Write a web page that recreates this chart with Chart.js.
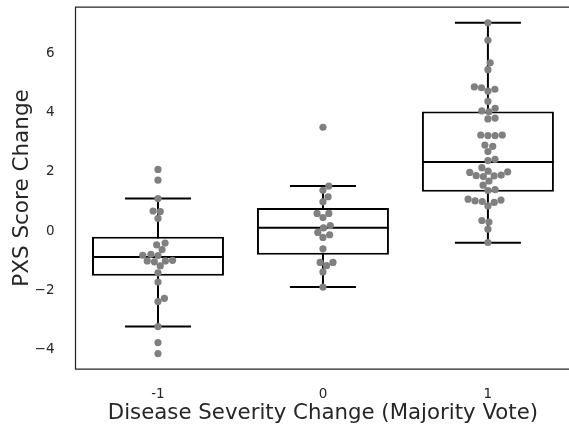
<!DOCTYPE html>
<html>
<head>
<meta charset="utf-8">
<script src="https://cdn.jsdelivr.net/npm/chart.js@4"></script>
<style>
  html, body { margin: 0; padding: 0; background: #fff; overflow: hidden; }
  canvas { display: block; }
</style>
</head>
<body>
<canvas id="chart" width="574" height="434"></canvas>
<script>
// categories on the x axis
const categories = ['-1', '0', '1'];

// PXS score change per group
const scoresNeg = [2.08, 1.72, 1.10, 0.68, 0.66, 0.43, -0.40, -0.46, -0.62, -0.78, -0.81, -0.82,
  -0.98, -1.00, -1.00, -1.03, -1.17, -1.40, -1.71, -2.26, -2.37, -3.21, -3.75, -4.12];
const scoresZero = [3.50, 1.52, 1.38, 1.16, 0.99, 0.60, 0.60, 0.46, 0.19, 0.11, -0.04, -0.12,
  -0.21, -0.59, -1.05, -1.05, -1.16, -1.37, -1.88];
const scoresPos = [7.02, 6.43, 5.67, 5.44, 4.86, 4.83, 4.78, 4.72, 4.37, 4.14, 4.05, 4.02, 3.81,
  3.78, 3.24, 3.24, 3.22, 3.22, 2.90, 2.86, 2.68, 2.42, 2.38, 2.14, 2.02, 2.00, 1.98, 1.89, 1.87,
  1.86, 1.84, 1.69, 1.55, 1.40, 1.37, 1.08, 1.05, 1.02, 1.00, 0.97, 0.85, 0.36, 0.31, 0.07, -0.38];

// box plot statistics per group
const whiskerLow = [-3.21, -1.88, -0.39];
const quartile1 = [-1.50, -0.79, 1.33];
const medians = [-0.87, 0.12, 2.33];
const quartile3 = [-0.19, 0.78, 4.03];
const whiskerHigh = [1.10, 1.52, 7.02];

const yTicks = [-4, -2, 0, 2, 4, 6];

const groups = [scoresNeg, scoresZero, scoresPos];
const boxHalf = 0.4;
const capHalf = 0.2;

Chart.defaults.font.family = "'DejaVu Sans', sans-serif";
Chart.defaults.color = '#262626';

// segments with gaps between them
const medianLines = [];
const whiskerLines = [];
categories.forEach((c, i) => {
  medianLines.push({x: i - boxHalf, y: medians[i]}, {x: i + boxHalf, y: medians[i]}, {x: i, y: null});
  whiskerLines.push({x: i, y: whiskerLow[i]}, {x: i, y: whiskerHigh[i]}, {x: i, y: null});
  whiskerLines.push({x: i - capHalf, y: whiskerLow[i]}, {x: i + capHalf, y: whiskerLow[i]}, {x: i, y: null});
  whiskerLines.push({x: i - capHalf, y: whiskerHigh[i]}, {x: i + capHalf, y: whiskerHigh[i]}, {x: i, y: null});
});

const points = [];
groups.forEach((vals, i) => vals.forEach(v => points.push({x: i, y: v})));

// axes frame: the right side falls past the window edge
const frame = {
  id: 'frame',
  beforeDatasetsDraw(chart) {
    const {ctx, chartArea: a} = chart;
    ctx.save();
    ctx.strokeStyle = '#262626';
    ctx.lineWidth = 1.25;
    ctx.beginPath();
    ctx.moveTo(chart.width, a.top);
    ctx.lineTo(a.left, a.top);
    ctx.lineTo(a.left, a.bottom);
    ctx.lineTo(chart.width, a.bottom);
    ctx.stroke();
    ctx.restore();
  }
};

const chart = new Chart(document.getElementById('chart'), {
  data: {
    datasets: [
      {
        type: 'scatter',
        data: points,
        pointRadius: 3.6,
        pointHoverRadius: 3.6,
        pointBackgroundColor: '#808080',
        pointBorderWidth: 0,
        order: 0
      },
      {
        type: 'line',
        data: medianLines,
        borderColor: '#000',
        borderWidth: 2,
        pointRadius: 0,
        spanGaps: false,
        order: 1
      },
      {
        type: 'bar',
        data: categories.map((c, i) => ({x: i, y: [quartile1[i], quartile3[i]]})),
        backgroundColor: '#fff',
        borderColor: '#000',
        borderWidth: 2,
        borderSkipped: false,
        barPercentage: 1,
        categoryPercentage: 0.8,
        order: 2
      },
      {
        type: 'line',
        data: whiskerLines,
        borderColor: '#000',
        borderWidth: 2,
        pointRadius: 0,
        spanGaps: false,
        order: 3
      }
    ]
  },
  options: {
    responsive: false,
    animation: false,
    devicePixelRatio: 1,
    layout: { padding: { top: 7, right: 2, left: 0, bottom: 0 } },
    plugins: { legend: { display: false }, tooltip: { enabled: false } },
    scales: {
      x: {
        type: 'linear',
        offset: false,
        min: -0.5,
        max: 2.5,
        grid: { display: false, offset: false },
        border: { display: false },
        afterBuildTicks: s => { s.ticks = categories.map((c, i) => ({value: i})); },
        afterFit: s => { s.height = 65; s.paddingLeft = 0; s.paddingRight = 0; },
        ticks: {
          padding: 9,
          font: { size: 13.5 },
          callback: v => categories[v]
        },
        title: {
          display: true,
          text: 'Disease Severity Change (Majority Vote)',
          font: { size: 21.3 },
          padding: { top: 0, bottom: 8 }
        }
      },
      y: {
        type: 'linear',
        min: -4.64,
        max: 7.55,
        grid: { display: false },
        border: { display: false },
        afterBuildTicks: s => { s.ticks = yTicks.map(v => ({value: v})); },
        afterFit: s => { s.width = 75.5; s.paddingTop = 0; s.paddingBottom = 0; },
        ticks: {
          padding: 13,
          font: { size: 13.5 },
          callback: v => (v < 0 ? '\u2212' + Math.abs(v) : String(v))
        },
        title: {
          display: true,
          text: 'PXS Score Change',
          font: { size: 21.5 },
          padding: { top: 10, bottom: 0 }
        }
      }
    }
  },
  plugins: [frame]
});

// beeswarm offsets in pixel space, like a swarm plot
function swarm(values, center) {
  const xs = chart.scales.x, ys = chart.scales.y;
  const cx = xs.getPixelForValue(center);
  const d = 7.2;
  const placed = [];
  const idx = values.map((v, i) => i).sort((a, b) => values[a] - values[b]);
  const out = new Array(values.length);
  idx.forEach(i => {
    const py = ys.getPixelForValue(values[i]);
    const near = placed.filter(p => Math.abs(p.y - py) < d);
    const cands = [0];
    near.forEach(p => {
      const dx = Math.sqrt(d * d - (p.y - py) * (p.y - py));
      cands.push(p.x + dx, p.x - dx);
    });
    cands.sort((a, b) => Math.abs(a) - Math.abs(b));
    const pos = cands.find(c => near.every(p => (p.x - c) ** 2 + (p.y - py) ** 2 >= d * d - 0.01));
    placed.push({x: pos, y: py});
    out[i] = {x: xs.getValueForPixel(cx + pos), y: values[i]};
  });
  return out;
}

chart.data.datasets[0].data = groups.flatMap((vals, i) => swarm(vals, i));
chart.update('none');
</script>
</body>
</html>
